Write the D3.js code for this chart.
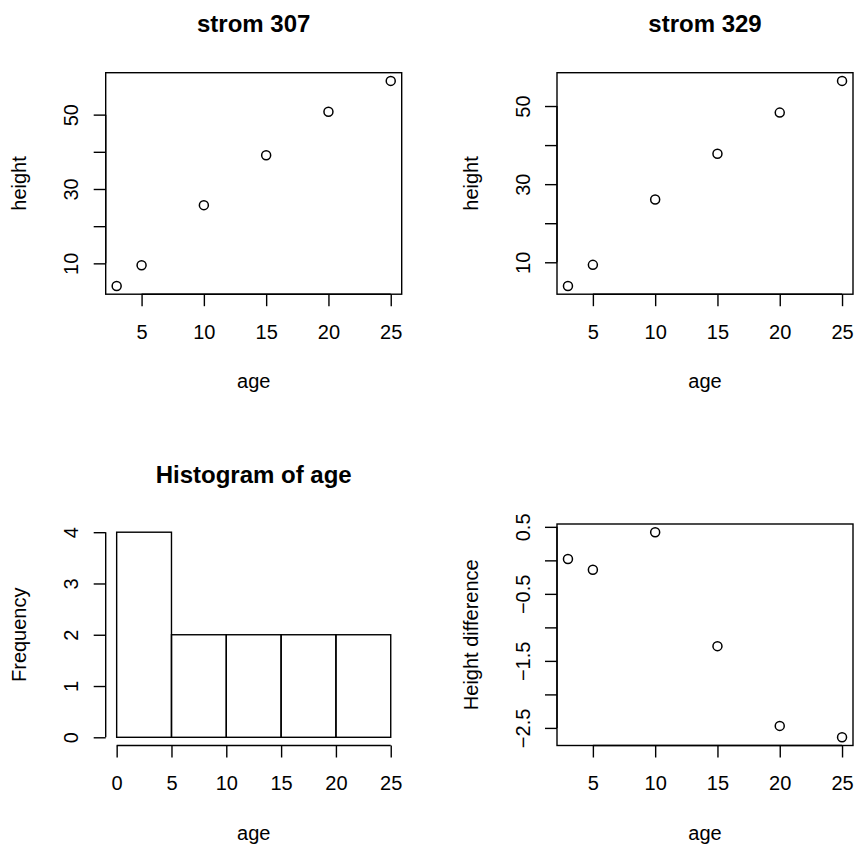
<!DOCTYPE html>
<html>
<head>
<meta charset="utf-8">
<script src="https://cdn.jsdelivr.net/npm/d3@7"></script>
<style>
  body { margin: 0; background: #fff; }
  svg text { font-family: "Liberation Sans", Arial, Helvetica, sans-serif; fill: #000; }
</style>
</head>
<body>
<div class="container"></div>
<script>
// data (Loblolly pines, seeds 307 and 329)
const ages = [3, 5, 10, 15, 20, 25];
const strom307 = [3.91, 9.48, 25.66, 39.07, 50.78, 59.07];
const strom329 = [3.93, 9.34, 26.08, 37.79, 48.31, 56.43];
const heightDiff = [0.02, -0.14, 0.42, -1.28, -2.47, -2.64];
const histBreaks = [0, 5, 10, 15, 20, 25];
const histCounts = [4, 2, 2, 2, 2];

// ticks, and which of them get a label
const ageTicks = [5, 10, 15, 20, 25];
const heightTicks = [10, 20, 30, 40, 50];
const heightLabels = [10, 30, 50];
const diffTicks = [0.5, 0, -0.5, -1, -1.5, -2, -2.5];
const diffLabels = [0.5, -0.5, -1.5, -2.5];
const histAgeTicks = [0, 5, 10, 15, 20, 25];
const freqTicks = [0, 1, 2, 3, 4];

const width = 856,
    height = 846,
    boxW = 296,
    boxH = 221.5,
    tickLen = 12,
    lw = 1.4;
const colX = [105.7, 557],
    rowY = [72.7, 524];

const svg = d3.select('.container')
              .append('svg')
              .attr('width', width)
              .attr('height', height);

// R style: pad the data range by 4% on each side
const rRange = (vals) => {
  const lo = d3.min(vals), hi = d3.max(vals), d = (hi - lo) * 0.04;
  return [lo - d, hi + d];
};

const fmt = (labels) => (v) => labels.includes(v) ? String(v).replace('-', '\u2212') : '';

const addPanel = (col, row) => {
  return svg.append('g')
            .attr('transform', `translate(${colX[col]},${rowY[row]})`);
};

const drawXAxis = (g, x, ticks) => {
  const ax = g.append('g')
              .attr('transform', `translate(0,${boxH})`)
              .call(d3.axisBottom(x).tickValues(ticks).tickSize(tickLen).tickPadding(18.5).tickSizeOuter(0));
  ax.select('.domain').remove();
  ax.append('line')
    .attr('x1', x(ticks[0])).attr('x2', x(ticks[ticks.length - 1]))
    .attr('stroke', '#000').attr('stroke-width', lw);
  ax.selectAll('.tick line').attr('stroke', '#000').attr('stroke-width', lw);
  ax.selectAll('.tick text').attr('font-size', 20).attr('fill', '#000');
};

const drawYAxis = (g, y, ticks, labels) => {
  const ax = g.append('g')
              .call(d3.axisLeft(y).tickValues(ticks).tickSize(tickLen).tickFormat(fmt(labels)).tickSizeOuter(0));
  ax.select('.domain').remove();
  ax.append('line')
    .attr('y1', y(d3.min(ticks))).attr('y2', y(d3.max(ticks)))
    .attr('stroke', '#000').attr('stroke-width', lw);
  ax.selectAll('.tick line').attr('stroke', '#000').attr('stroke-width', lw);
  ax.selectAll('.tick text')
    .attr('font-size', 20)
    .attr('fill', '#000')
    .attr('x', 0).attr('y', 0)
    .attr('dy', '0.35em')
    .attr('text-anchor', 'middle')
    .attr('transform', 'translate(-34.5,0) rotate(-90)');
};

const drawTitles = (g, title, xlab, ylab) => {
  if (title) {
    g.append('text')
     .attr('x', boxW / 2).attr('y', -41)
     .attr('text-anchor', 'middle')
     .attr('font-size', 24).attr('font-weight', 'bold')
     .text(title);
  }
  g.append('text')
   .attr('x', boxW / 2).attr('y', boxH + 94)
   .attr('text-anchor', 'middle')
   .attr('font-size', 20)
   .text(xlab);
  g.append('text')
   .attr('transform', `translate(-79.5,${boxH / 2}) rotate(-90)`)
   .attr('text-anchor', 'middle')
   .attr('font-size', 20)
   .text(ylab);
};

const drawBox = (g) => {
  g.append('rect')
   .attr('width', boxW).attr('height', boxH)
   .attr('fill', 'none').attr('stroke', '#000').attr('stroke-width', lw);
};

const scatterPanel = (col, row, values, yTicks, yLabels, title, ylab) => {
  const g = addPanel(col, row);
  const x = d3.scaleLinear().domain(rRange(ages)).range([0, boxW]);
  const y = d3.scaleLinear().domain(rRange(values)).range([boxH, 0]);
  drawBox(g);
  drawXAxis(g, x, ageTicks);
  drawYAxis(g, y, yTicks, yLabels);
  g.selectAll('circle')
   .data(values)
   .enter()
   .append('circle')
   .attr('cx', (d, i) => x(ages[i]))
   .attr('cy', (d) => y(d))
   .attr('r', 4.5)
   .attr('fill', 'none')
   .attr('stroke', '#000')
   .attr('stroke-width', 1.5);
  drawTitles(g, title, 'age', ylab);
};

const histPanel = () => {
  const g = addPanel(0, 1);
  const x = d3.scaleLinear().domain(rRange(histBreaks)).range([0, boxW]);
  const y = d3.scaleLinear().domain(rRange([0, d3.max(histCounts)])).range([boxH, 0]);
  g.selectAll('rect.bar')
   .data(histCounts)
   .enter()
   .append('rect')
   .attr('class', 'bar')
   .attr('x', (d, i) => x(histBreaks[i]))
   .attr('y', (d) => y(d))
   .attr('width', (d, i) => x(histBreaks[i + 1]) - x(histBreaks[i]))
   .attr('height', (d) => y(0) - y(d))
   .attr('fill', 'none')
   .attr('stroke', '#000')
   .attr('stroke-width', lw);
  drawXAxis(g, x, histAgeTicks);
  drawYAxis(g, y, freqTicks, freqTicks);
  drawTitles(g, 'Histogram of age', 'age', 'Frequency');
};

scatterPanel(0, 0, strom307, heightTicks, heightLabels, 'strom 307', 'height');
scatterPanel(1, 0, strom329, heightTicks, heightLabels, 'strom 329', 'height');
histPanel();
scatterPanel(1, 1, heightDiff, diffTicks, diffLabels, null, 'Height difference');
</script>
</body>
</html>
